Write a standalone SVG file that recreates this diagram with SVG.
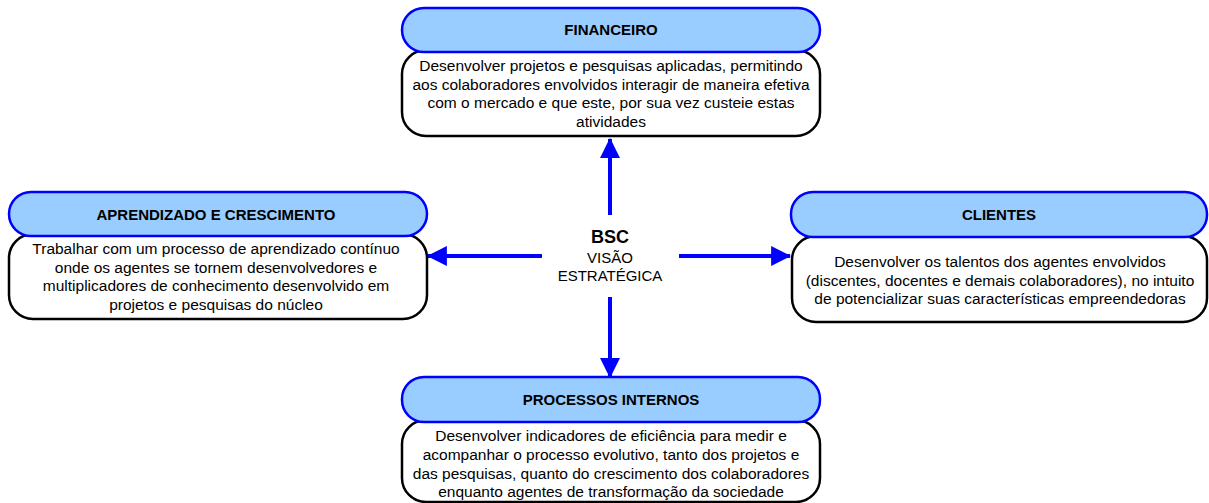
<svg xmlns="http://www.w3.org/2000/svg" width="1209" height="503" viewBox="0 0 1209 503">
<defs>
<style>
.hdr{fill:#99CCFF;stroke:#0000FF;stroke-width:2.5}
.body{fill:#FFFFFF;stroke:#000000;stroke-width:2.5}
.t{font-family:"Liberation Sans",Arial,sans-serif;font-size:15.5px;fill:#000;text-anchor:middle}
.h{font-family:"Liberation Sans",Arial,sans-serif;font-size:15px;font-weight:bold;fill:#000;text-anchor:middle}
.conn{stroke:#0000FF;stroke-width:4;fill:none}
</style>
<marker id="ah" markerUnits="userSpaceOnUse" markerWidth="20" markerHeight="20" viewBox="0 0 18 18" refX="17" refY="9" orient="auto">
<path d="M0,0 L18,9 L0,18 Z" fill="#0000FF"/>
</marker>
</defs>
<rect width="1209" height="503" fill="#FFFFFF"/>

<g id="connectors">
<line class="conn" x1="610" y1="215" x2="610" y2="139" marker-end="url(#ah)"/>
<line class="conn" x1="610" y1="297" x2="610" y2="377" marker-end="url(#ah)"/>
<line class="conn" x1="542" y1="256" x2="428" y2="256" marker-end="url(#ah)"/>
<line class="conn" x1="679" y1="256" x2="790" y2="256" marker-end="url(#ah)"/>
</g>

<g id="center">
<text class="h" x="610" y="243" style="font-size:18px">BSC</text>
<text class="t" x="610" y="263" style="font-size:15px">VISÃO</text>
<text class="t" x="610" y="281" style="font-size:15px">ESTRATÉGICA</text>
</g>

<g id="financeiro">
<rect class="body" x="402" y="50" width="418" height="86" rx="24"/>
<rect class="hdr" x="402" y="8" width="418" height="44" rx="22"/>
<text class="h" x="611" y="35">FINANCEIRO</text>
<text class="t" x="611" y="71">Desenvolver projetos e pesquisas aplicadas, permitindo</text>
<text class="t" x="611" y="90">aos colaboradores envolvidos interagir de maneira efetiva</text>
<text class="t" x="611" y="108">com o mercado e que este, por sua vez custeie estas</text>
<text class="t" x="611" y="127">atividades</text>
</g>

<g id="aprendizado">
<rect class="body" x="9" y="234" width="418" height="85" rx="24"/>
<rect class="hdr" x="9" y="192" width="418" height="44" rx="22"/>
<text class="h" x="216" y="220">APRENDIZADO E CRESCIMENTO</text>
<text class="t" x="216" y="254">Trabalhar com um processo de aprendizado contínuo</text>
<text class="t" x="216" y="273">onde os agentes se tornem desenvolvedores e</text>
<text class="t" x="216" y="291">multiplicadores de conhecimento desenvolvido em</text>
<text class="t" x="216" y="310">projetos e pesquisas do núcleo</text>
</g>

<g id="clientes">
<rect class="body" x="792" y="236" width="415" height="86" rx="24"/>
<rect class="hdr" x="791" y="192" width="416" height="45" rx="22"/>
<text class="h" x="999" y="220">CLIENTES</text>
<text class="t" x="1000" y="267">Desenvolver os talentos dos agentes envolvidos</text>
<text class="t" x="1000" y="286">(discentes, docentes e demais colaboradores), no intuito</text>
<text class="t" x="1000" y="304">de potencializar suas características empreendedoras</text>
</g>

<g id="processos">
<rect class="body" x="402" y="420" width="418" height="82" rx="24"/>
<rect class="hdr" x="402" y="377" width="418" height="45" rx="22"/>
<text class="h" x="611" y="405">PROCESSOS INTERNOS</text>
<text class="t" x="611" y="441">Desenvolver indicadores de eficiência para medir e</text>
<text class="t" x="611" y="460">acompanhar o processo evolutivo, tanto dos projetos e</text>
<text class="t" x="611" y="479">das pesquisas, quanto do crescimento dos colaboradores</text>
<text class="t" x="611" y="497">enquanto agentes de transformação da sociedade</text>
</g>
</svg>
